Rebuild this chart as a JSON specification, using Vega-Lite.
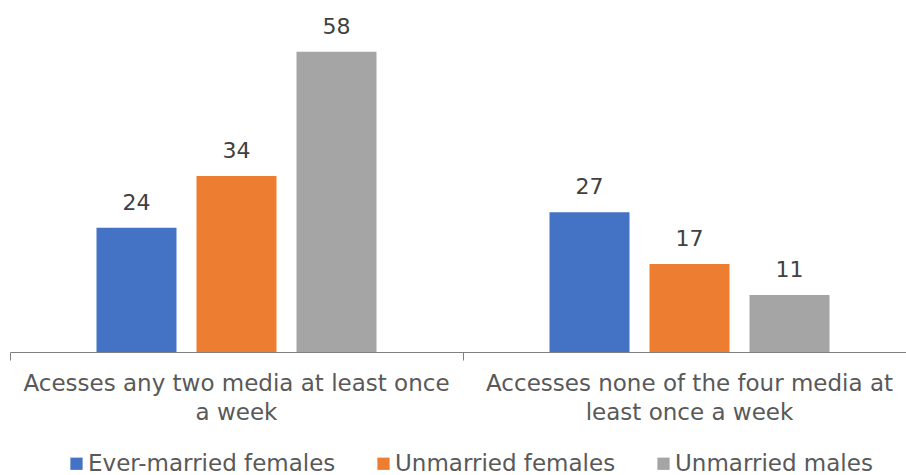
{
  "$schema": "https://vega.github.io/schema/vega-lite/v6.json",
  "autosize": "none",
  "width": 906,
  "height": 352,
  "padding": {"left": 10, "top": 0, "right": 0, "bottom": 123},
  "config": {
    "view": {"stroke": null},
    "font": "DejaVu Sans",
    "background": "white"
  },
  "data": {
    "values": [
      {"group": "Acesses any two media at least once a week", "series": "Ever-married females", "value": 24},
      {"group": "Acesses any two media at least once a week", "series": "Unmarried females", "value": 34},
      {"group": "Acesses any two media at least once a week", "series": "Unmarried males", "value": 58},
      {"group": "Accesses none of the four media at least once a week", "series": "Ever-married females", "value": 27},
      {"group": "Accesses none of the four media at least once a week", "series": "Unmarried females", "value": 17},
      {"group": "Accesses none of the four media at least once a week", "series": "Unmarried males", "value": 11}
    ]
  },
  "encoding": {
    "x": {
      "field": "group",
      "type": "nominal",
      "sort": null,
      "scale": {"paddingInner": 0, "paddingOuter": 0},
      "axis": {
        "title": null,
        "labelAngle": 0,
        "bandPosition": 0,
        "tickSize": 8,
        "tickColor": "#7f7f7f",
        "domainColor": "#7f7f7f",
        "labelFontSize": 23,
        "labelColor": "#595959",
        "labelPadding": 12,
        "labelLineHeight": 29,
        "labelBaseline": "top",
        "labelLimit": 0,
        "labelExpr": "datum.value == 'Acesses any two media at least once a week' ? ['Acesses any two media at least once', 'a week'] : ['Accesses none of the four media at', 'least once a week']"
      }
    },
    "xOffset": {
      "field": "series",
      "type": "nominal",
      "sort": null,
      "scale": {"paddingInner": 0.2, "paddingOuter": 0.865}
    },
    "y": {
      "field": "value",
      "type": "quantitative",
      "scale": {"domain": [0, 68]},
      "axis": null
    }
  },
  "layer": [
    {
      "mark": {"type": "bar"},
      "encoding": {
        "color": {
          "field": "series",
          "type": "nominal",
          "sort": null,
          "scale": {"range": ["#4472C4", "#ED7D31", "#A5A5A5"]},
          "legend": {
            "title": null,
            "orient": "none",
            "direction": "horizontal",
            "legendX": 55,
            "legendY": 452,
            "symbolType": "square",
            "symbolSize": 150,
            "labelFontSize": 23,
            "labelColor": "#595959",
            "labelLimit": 0,
            "columnPadding": 36,
            "labelOffset": 0
          }
        }
      }
    },
    {
      "mark": {"type": "text", "baseline": "bottom", "dy": -13, "fontSize": 22, "color": "#404040"},
      "encoding": {
        "text": {"field": "value", "type": "quantitative"}
      }
    }
  ]
}
